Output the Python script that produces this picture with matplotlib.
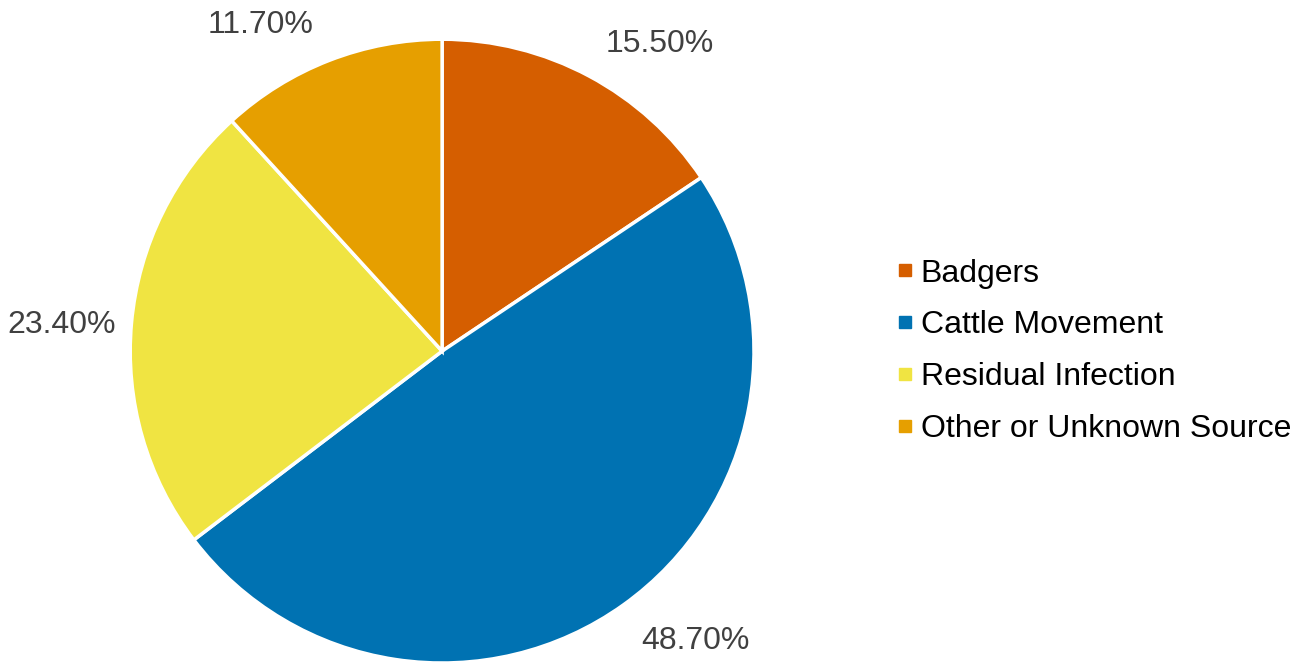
import numpy as np
import matplotlib.pyplot as plt
from matplotlib.lines import Line2D

plt.rcParams['font.family'] = ['Liberation Sans', 'DejaVu Sans']

# data
categories = ["Badgers", "Cattle Movement", "Residual Infection", "Other or Unknown Source"]
shares = [15.5, 48.7, 23.4, 11.7]
colors = ["#D55E00", "#0072B2", "#F0E442", "#E69F00"]

# small nudges (points) for the outside labels
label_nudge = [(7, 2), (6.5, -6), (0, -13), (-7, 4.5)]

fig = plt.figure(figsize=(13.03, 6.65), dpi=100)
ax = fig.add_axes([0.0998, 0.003, 0.479, 0.938])

wedges, _ = ax.pie(shares, colors=colors, startangle=90, counterclock=False,
                   wedgeprops=dict(edgecolor="white", linewidth=2.5))
ax.set_xlim(-1, 1)
ax.set_ylim(-1, 1)
ax.set_aspect("equal")

# percentage labels just outside the slices
for w, val, nd in zip(wedges, shares, label_nudge):
    ang = np.deg2rad((w.theta1 + w.theta2) / 2)
    x, y = 1.05 * np.cos(ang), 1.05 * np.sin(ang)
    ha = "left" if x > 0 else "right"
    va = "bottom" if y > 0 else "top"
    ax.annotate(f"{val:.2f}%", (x, y), xytext=nd, textcoords="offset points",
                ha=ha, va=va, fontsize=23, color="#404040", annotation_clip=False)

handles = [Line2D([], [], marker="s", linestyle="none", markersize=9,
                  markerfacecolor=c, markeredgecolor=c) for c in colors]
ax.legend(handles, categories, loc="center left", bbox_to_anchor=(0.676, 0.472),
          bbox_transform=fig.transFigure, frameon=False, fontsize=23,
          handlelength=0.5, handletextpad=0.25, labelspacing=0.68, borderpad=0)

fig.savefig("out.png", dpi=100)
